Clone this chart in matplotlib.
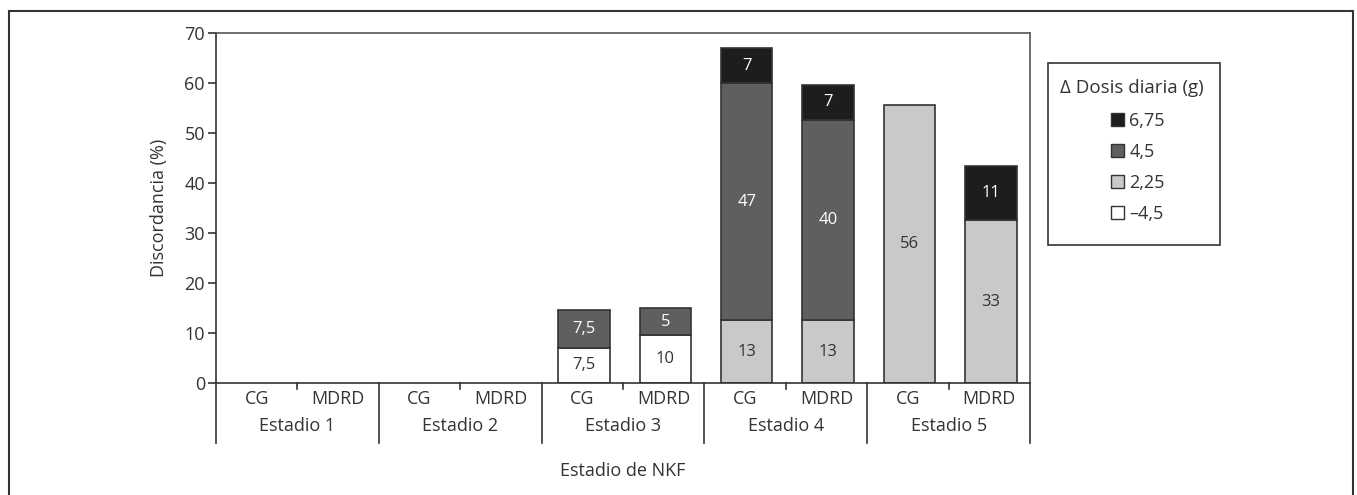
import matplotlib
matplotlib.use("Agg")
import matplotlib.pyplot as plt
import matplotlib.transforms as mtransforms
from matplotlib.patches import Patch, Rectangle
import numpy as np

plt.rcParams['font.family'] = ['Open Sans', 'DejaVu Sans']

# ---- data ----
stages = ["Estadio 1", "Estadio 2", "Estadio 3", "Estadio 4", "Estadio 5"]
methods = ["CG", "MDRD"]
series_names = ["6,75", "4,5", "2,25", "\u20134,5"]
# values per bar (Estadio1 CG, Estadio1 MDRD, ..., Estadio5 MDRD)
neg45 = [0, 0, 0, 0, 7.1, 9.6, 0, 0, 0, 0]
p225 = [0, 0, 0, 0, 0, 0, 12.6, 12.6, 55.6, 32.6]
p45 = [0, 0, 0, 0, 7.5, 5.4, 47.4, 40.0, 0, 0]
p675 = [0, 0, 0, 0, 0, 0, 7.0, 7.0, 0, 10.8]
lab_neg45 = ["", "", "", "", "7,5", "10", "", "", "", ""]
lab_p225 = ["", "", "", "", "", "", "13", "13", "56", "33"]
lab_p45 = ["", "", "", "", "7,5", "5", "47", "40", "", ""]
lab_p675 = ["", "", "", "", "", "", "7", "7", "", "11"]
yticks = [0, 10, 20, 30, 40, 50, 60, 70]

col_black = "#1f1c1d"
col_dark = "#5e5f61"
col_light = "#c8c9cb"
col_white = "#ffffff"
edge = "#333333"
txt = "#333333"

W, H = 1357, 495
fig = plt.figure(figsize=(W / 100, H / 100), dpi=100)
ax = fig.add_axes([216 / W, 1 - 383 / H, (1030 - 216) / W, (383 - 33) / H])

n = len(stages) * len(methods)
x = np.arange(n) + 0.52
bw = 0.63

segs = [(neg45, col_white, lab_neg45, txt),
        (p225, col_light, lab_p225, txt),
        (p45, col_dark, lab_p45, "white"),
        (p675, col_black, lab_p675, "white")]
bottom = np.zeros(n)
for vals, c, labs, tc in segs:
    v = np.array(vals, dtype=float)
    m = v > 0
    ax.bar(x[m], v[m], bw, bottom=bottom[m], color=c, edgecolor=edge, linewidth=1.2, zorder=2)
    for i in range(n):
        if v[i] > 0 and labs[i]:
            ax.text(x[i], bottom[i] + v[i] / 2, labs[i], ha="center", va="center",
                    color=tc, fontsize=12)
    bottom += v

ax.set_xlim(0, n)
ax.set_ylim(0, 70)
ax.set_yticks(yticks)
ax.set_yticklabels([str(t) for t in yticks], fontsize=13, color=txt)
ax.tick_params(axis="y", length=6, width=1.2, color=edge, pad=2)
ax.set_xticks([])
for s in ax.spines.values():
    s.set_color(edge)
    s.set_linewidth(1.2)
ax.spines["top"].set_color("#555555")
ax.spines["right"].set_color("#555555")
ax.set_ylabel("Discordancia (%)", fontsize=13, color=txt, labelpad=12)

trans = mtransforms.blended_transform_factory(ax.transData, ax.transAxes)
for i in range(n):
    ax.text(x[i] - 0.02, -0.045, methods[i % 2], transform=trans, ha="center", va="center",
            fontsize=13, color=txt)
for g in range(len(stages)):
    ax.text(2 * g + 1, -0.122, stages[g], transform=trans, ha="center", va="center",
            fontsize=13, color=txt)
for g in range(len(stages) + 1):
    ax.plot([2 * g, 2 * g], [0, -0.172], transform=trans, color=edge, lw=1.2, clip_on=False)
for g in range(len(stages)):
    ax.plot([2 * g + 1, 2 * g + 1], [0, -0.016], transform=trans, color=edge, lw=1.2,
            clip_on=False)
ax.text(0.5, -0.25, "Estadio de NKF", transform=ax.transAxes, ha="center", va="center",
        fontsize=13, color=txt)

# legend box
fig.patches.append(Rectangle((1048 / W, 1 - 245 / H), (1220 - 1048) / W, (245 - 63) / H,
                             transform=fig.transFigure, fill=False, edgecolor=edge, lw=1.2))
fig.text(1060 / W, 1 - 88 / H, "\u0394 Dosis diaria (g)", ha="left", va="center",
         fontsize=13.5, color=txt)
handles = [Patch(facecolor=col_black, edgecolor=edge, lw=1),
           Patch(facecolor=col_dark, edgecolor=edge, lw=1),
           Patch(facecolor=col_light, edgecolor=edge, lw=1),
           Patch(facecolor=col_white, edgecolor=edge, lw=1)]
leg = fig.legend(handles, series_names, loc="upper left",
                 bbox_to_anchor=(1111 / W, 1 - 112 / H), frameon=False, fontsize=13,
                 handlelength=0.72, handleheight=0.72, handletextpad=0.3,
                 labelspacing=0.72, borderpad=0, borderaxespad=0)
for t in leg.get_texts():
    t.set_color(txt)

# outer frame
fig.patches.append(Rectangle((9 / W, -0.05), (1353 - 9) / W, 1.05 - 11 / H,
                             transform=fig.transFigure, fill=False, edgecolor="#333333", lw=1.5))

fig.savefig("out.png", dpi=100, facecolor="white")
